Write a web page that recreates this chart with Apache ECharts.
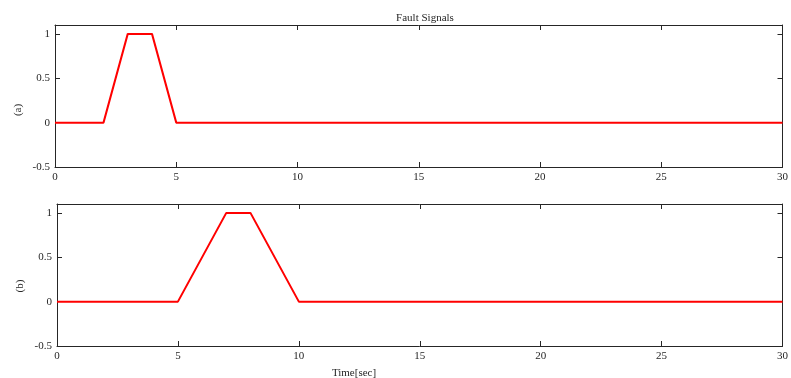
<!DOCTYPE html>
<html><head><meta charset="utf-8">
<script src="https://cdn.jsdelivr.net/npm/echarts@6/dist/echarts.min.js"></script>
<style>html,body{margin:0;padding:0;background:#fff}#c{width:791px;height:378px}</style>
</head><body><div id="c"></div>
<script>
const timeA = [0, 2, 3, 4, 5, 30];
const valA  = [0, 0, 1, 1, 0, 0];
const timeB = [0, 5, 7, 8, 10, 30];
const valB  = [0, 0, 1, 1, 0, 0];
const xTicks = [0, 5, 10, 15, 20, 25, 30];
const yTicks = [-0.5, 0, 0.5, 1];
const titleText = 'Fault Signals';
const labelA = '(a)', labelB = '(b)', xLabel = 'Time[sec]';

const font = 'Liberation Serif';
const axCol = '#262626';
function pairs(t, v){ return t.map((x,i)=>[x, v[i]]); }
function fmtY(v){ return String(v); }

const grids = [
  {left: 55, top: 25, width: 729, height: 142, show: false},
  {left: 57, top: 204, width: 728, height: 142, show: false}
];
const xAxes = [], yAxes = [];
[0,1].forEach(g=>{
  xAxes.push({type:'value', gridIndex:g, min:0, max:30, interval:5, position:'bottom',
    axisLine:{show:true, onZero:false, lineStyle:{color:axCol,width:1}},
    axisTick:{show:true, inside:true, length:5, lineStyle:{color:axCol}},
    axisLabel:{show:true, margin:5, fontFamily:font, fontSize:11, color:axCol},
    splitLine:{show:false}});
  xAxes.push({type:'value', gridIndex:g, min:0, max:30, interval:5, position:'top',
    axisLine:{show:true, onZero:false, lineStyle:{color:axCol,width:1}},
    axisTick:{show:true, inside:true, length:5, lineStyle:{color:axCol}},
    axisLabel:{show:false}, splitLine:{show:false}});
  yAxes.push({type:'value', gridIndex:g, min:-0.5, max:1.1, interval:0.5, position:'left',
    axisLine:{show:true, onZero:false, lineStyle:{color:axCol,width:1}},
    axisTick:{show:true, inside:true, length:5, lineStyle:{color:axCol}},
    axisLabel:{show:true, margin:5, fontFamily:font, fontSize:11, color:axCol, showMaxLabel:false,
      formatter: v => (yTicks.indexOf(v) >= 0 ? fmtY(v) : '')},
    splitLine:{show:false}});
  yAxes.push({type:'value', gridIndex:g, min:-0.5, max:1.1, interval:0.5, position:'right',
    axisLine:{show:true, onZero:false, lineStyle:{color:axCol,width:1}},
    axisTick:{show:true, inside:true, length:5, lineStyle:{color:axCol}},
    axisLabel:{show:false}, splitLine:{show:false}});
});

const chart = echarts.init(document.getElementById('c'), null, {renderer:'canvas'});
chart.setOption({
  animation:false,
  backgroundColor:'#fff',
  title:{text:titleText, left:420, top:8, textAlign:'center',
    textStyle:{fontFamily:font, fontSize:11, fontWeight:'normal', color:axCol}},
  grid: grids,
  xAxis: xAxes,
  yAxis: yAxes,
  series:[
    {type:'line', xAxisIndex:0, yAxisIndex:0, data:pairs(timeA,valA), showSymbol:false,
      lineStyle:{color:'#ff0000', width:2}, clip:true},
    {type:'line', xAxisIndex:2, yAxisIndex:2, data:pairs(timeB,valB), showSymbol:false,
      lineStyle:{color:'#ff0000', width:2}, clip:true}
  ],
  graphic:[
    {type:'text', x:18, y:110, rotation:Math.PI/2, style:{text:labelA, font:'11px "Liberation Serif"', fill:axCol, textAlign:'center', textVerticalAlign:'middle'}},
    {type:'text', x:20, y:286, rotation:Math.PI/2, style:{text:labelB, font:'11px "Liberation Serif"', fill:axCol, textAlign:'center', textVerticalAlign:'middle'}},
    {type:'text', x:354, y:373, style:{text:xLabel, font:'11px "Liberation Serif"', fill:axCol, textAlign:'center', textVerticalAlign:'middle'}}
  ]
});
</script></body></html>
